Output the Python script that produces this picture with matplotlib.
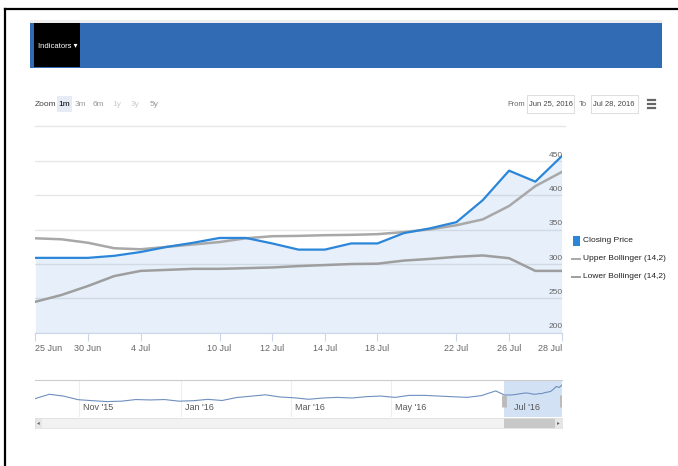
import numpy as np
import matplotlib
matplotlib.use('Agg')
import matplotlib.pyplot as plt
from matplotlib.patches import Rectangle
from matplotlib.lines import Line2D
from matplotlib.transforms import blended_transform_factory

plt.rcParams['font.family'] = ['Liberation Sans', 'DejaVu Sans']

# main chart data (one point per trading day)
close = [309, 309, 309, 312, 317.5, 325, 331, 338, 338, 330, 321,
         321, 330, 330, 345, 352, 361, 393, 436, 420, 457]
upper = [337.5, 336, 331, 323, 321.5, 325, 328.5, 332, 337.5, 340.5, 341,
         342, 342.5, 343.5, 346.5, 350.5, 356.5, 365, 384.5, 413.5, 434]
lower = [245, 255, 268, 282.5, 290, 291.5, 293, 293, 294, 295, 297,
         298.5, 300, 300.5, 305, 307.5, 310.5, 312.5, 308.5, 290, 290]
x_tick_idx = [0, 2, 4, 7, 9, 11, 13, 16, 18, 20]
x_tick_labels = ['25 Jun', '30 Jun', '4 Jul', '10 Jul', '12 Jul', '14 Jul',
                 '18 Jul', '22 Jul', '26 Jul', '28 Jul']
y_ticks = [200, 250, 300, 350, 400, 450]

# navigator history (sampled every 5 trading days), then the zoomed month
nav_hist = [255, 320, 292, 240, 225, 212, 218, 242, 236, 242, 218, 225,
            245, 228, 272, 292, 312, 280, 268, 246, 265, 274, 265, 284,
            294, 274, 304, 304, 294, 284, 274, 300, 370]
nav_ticks = [15.3, 50.6, 89, 123.6, 165]
nav_labels = ["Nov '15", "Jan '16", "Mar '16", "May '16", "Jul '16"]

W, H = 678, 466
def fx(x):
    return x / W
def fy(y):
    return 1 - y / H
def box(x0, y0, x1, y1):
    return [fx(x0), fy(y1), (x1 - x0) / W, (y1 - y0) / H]

fig = plt.figure(figsize=(W / 100, H / 100), dpi=100)
fig.patch.set_facecolor('white')

def frect(x0, y0, x1, y1, **kw):
    fig.add_artist(Rectangle((fx(x0), fy(y1)), (x1 - x0) / W, (y1 - y0) / H,
                             transform=fig.transFigure, **kw))
def fline(x0, y0, x1, y1, **kw):
    fig.add_artist(Line2D([fx(x0), fx(x1)], [fy(y0), fy(y1)],
                          transform=fig.transFigure, **kw))

# outer frame (top / left)
fline(5, 9, 678, 9, color='black', lw=1.6)
fline(5, 9, 5, 466, color='black', lw=1.6)

# header bar
frect(30, 20, 662, 23, color='#eeeeee', lw=0)
frect(30, 23, 662, 68, color='#316bb4', lw=0)
frect(34, 23, 80, 67, color='black', lw=0)
fig.text(fx(38), fy(46), 'Indicators \u25be', color='white', fontsize=5.5, va='center')

# toolbar row
fig.text(fx(35), fy(104), 'Zoom', color='#444444', fontsize=6, va='center')
frect(57, 96, 72, 112, color='#e6ebf5', lw=0)
fig.text(fx(64.5), fy(104), '1m', color='black', fontsize=6, va='center', ha='center')
for lab, xp, col in [('3m', 80, '#999999'), ('6m', 98, '#999999'), ('1y', 117, '#cccccc'),
                     ('3y', 135, '#cccccc'), ('5y', 154, '#999999')]:
    fig.text(fx(xp), fy(104), lab, color=col, fontsize=6, va='center', ha='center')
fig.text(fx(507), fy(104), 'From', color='#666666', fontsize=5.5, va='center')
frect(527, 95, 574, 113, facecolor='white', edgecolor='#d8d8d8', lw=0.6)
fig.text(fx(529), fy(104), 'Jun 25, 2016', color='#444444', fontsize=5.5, va='center')
fig.text(fx(579), fy(104), 'To', color='#666666', fontsize=5.5, va='center')
frect(591, 95, 638, 113, facecolor='white', edgecolor='#d8d8d8', lw=0.6)
fig.text(fx(593), fy(104), 'Jul 28, 2016', color='#444444', fontsize=5.5, va='center')
for yy in (100, 104, 108):
    fline(648, yy, 655, yy, color='#666666', lw=1.6)
fline(35, 126, 565, 126, color='#e6e6e6', lw=1)

# main chart
ax = fig.add_axes(box(35.3, 152.8, 561.7, 332.7))
idx = np.arange(len(close))
ax.fill_between(idx, close, 200, color=(0.2, 0.5, 0.85, 0.12), lw=0, zorder=2)
ax.plot(idx, upper, color='#a8a8a8', lw=1.8, zorder=3)
ax.plot(idx, lower, color='#9e9e9e', lw=1.8, zorder=3)
ax.plot(idx, close, color='#2b86d9', lw=1.6, zorder=4)
ax.set_xlim(0, 20)
ax.set_ylim(200, 462)
ax.set_yticks(y_ticks)
ax.yaxis.grid(True, color='#e6e6e6', lw=1)
ax.set_axisbelow(True)
ax.tick_params(axis='y', length=0, labelleft=False)
trans = blended_transform_factory(ax.transAxes, ax.transData)
for v in y_ticks:
    ax.annotate(str(v), xy=(1, v), xycoords=trans, xytext=(1, 6),
                textcoords='offset pixels', ha='right', va='center',
                fontsize=6, color='#666666', annotation_clip=False)
ax.set_xticks(x_tick_idx)
ax.set_xticklabels(x_tick_labels, fontsize=6.5, color='#666666')
labs = ax.get_xticklabels()
labs[0].set_ha('left')
labs[-1].set_ha('right')
ax.tick_params(axis='x', length=6, color='#ccd6eb', pad=2)
for s in ['top', 'left', 'right']:
    ax.spines[s].set_visible(False)
ax.spines['bottom'].set_color('#ccd6eb')

# legend
frect(573, 236, 580, 246, color='#2b86d9', lw=0)
fig.text(fx(583), fy(241), 'Closing Price', fontsize=6, va='center', color='#222222')
fline(572, 259, 580, 259, color='#a8a8a8', lw=1.4)
fig.text(fx(583), fy(259), 'Upper Bollinger (14,2)', fontsize=6, va='center', color='#222222')
fline(572, 276.5, 580, 276.5, color='#9e9e9e', lw=1.4)
fig.text(fx(583), fy(276.5), 'Lower Bollinger (14,2)', fontsize=6, va='center', color='#222222')

# navigator
nav = fig.add_axes(box(35, 380, 562, 417))
hist_days = np.arange(len(nav_hist)) * 5
main_days = 163 + idx
nav_days = np.concatenate([hist_days, main_days])
nav_vals = np.concatenate([nav_hist, close])
nav.axvspan(main_days[0], main_days[-1], color='#d3e1f4', lw=0, zorder=1)
nav.plot(nav_days, nav_vals, color='#6f8fbf', lw=0.8, zorder=3)
nav.set_xlim(0, main_days[-1])
nav.set_ylim(-16, 531)
nav.set_xticks(nav_ticks)
nav.xaxis.grid(True, color='#eeeeee', lw=0.8)
nav.set_axisbelow(True)
nav.tick_params(length=0, labelbottom=False, labelleft=False)
nav.set_yticks([])
ntrans = blended_transform_factory(nav.transData, nav.transAxes)
for d, lab in zip(nav_ticks, nav_labels):
    nav.annotate(lab, xy=(d, 0), xycoords=ntrans, xytext=(4, 9),
                 textcoords='offset pixels', ha='left', va='center',
                 fontsize=6.5, color='#555555')
for d in (main_days[0], main_days[-1]):
    nav.plot([d, d], [0.27, 0.6], transform=ntrans, color='#bbbbbb', lw=3.5, zorder=4,
             solid_capstyle='butt')
for s in ['left', 'right', 'bottom']:
    nav.spines[s].set_visible(False)
nav.spines['top'].set_color('#cccccc')

# scrollbar
sb = fig.add_axes(box(35, 418, 562, 428))
sb.set_facecolor('#f2f2f2')
sb.set_xlim(0, main_days[-1])
sb.set_ylim(0, 1)
sb.axvspan(main_days[0], main_days[-1], color='#c8c8c8', lw=0)
sb.add_patch(Rectangle((0, 0), 0.013, 1, transform=sb.transAxes, color='#e6e6e6', lw=0))
sb.add_patch(Rectangle((0.987, 0), 0.013, 1, transform=sb.transAxes, color='#e6e6e6', lw=0))
sb.text(0.0065, 0.5, '\u25c2', transform=sb.transAxes, ha='center', va='center',
        fontsize=4, color='#666666', family='DejaVu Sans')
sb.text(0.9935, 0.5, '\u25b8', transform=sb.transAxes, ha='center', va='center',
        fontsize=4, color='#666666', family='DejaVu Sans')
sb.set_xticks([])
sb.set_yticks([])
for s in sb.spines.values():
    s.set_color('#e0e0e0')
    s.set_linewidth(0.6)

fig.savefig('out.png', dpi=100)
